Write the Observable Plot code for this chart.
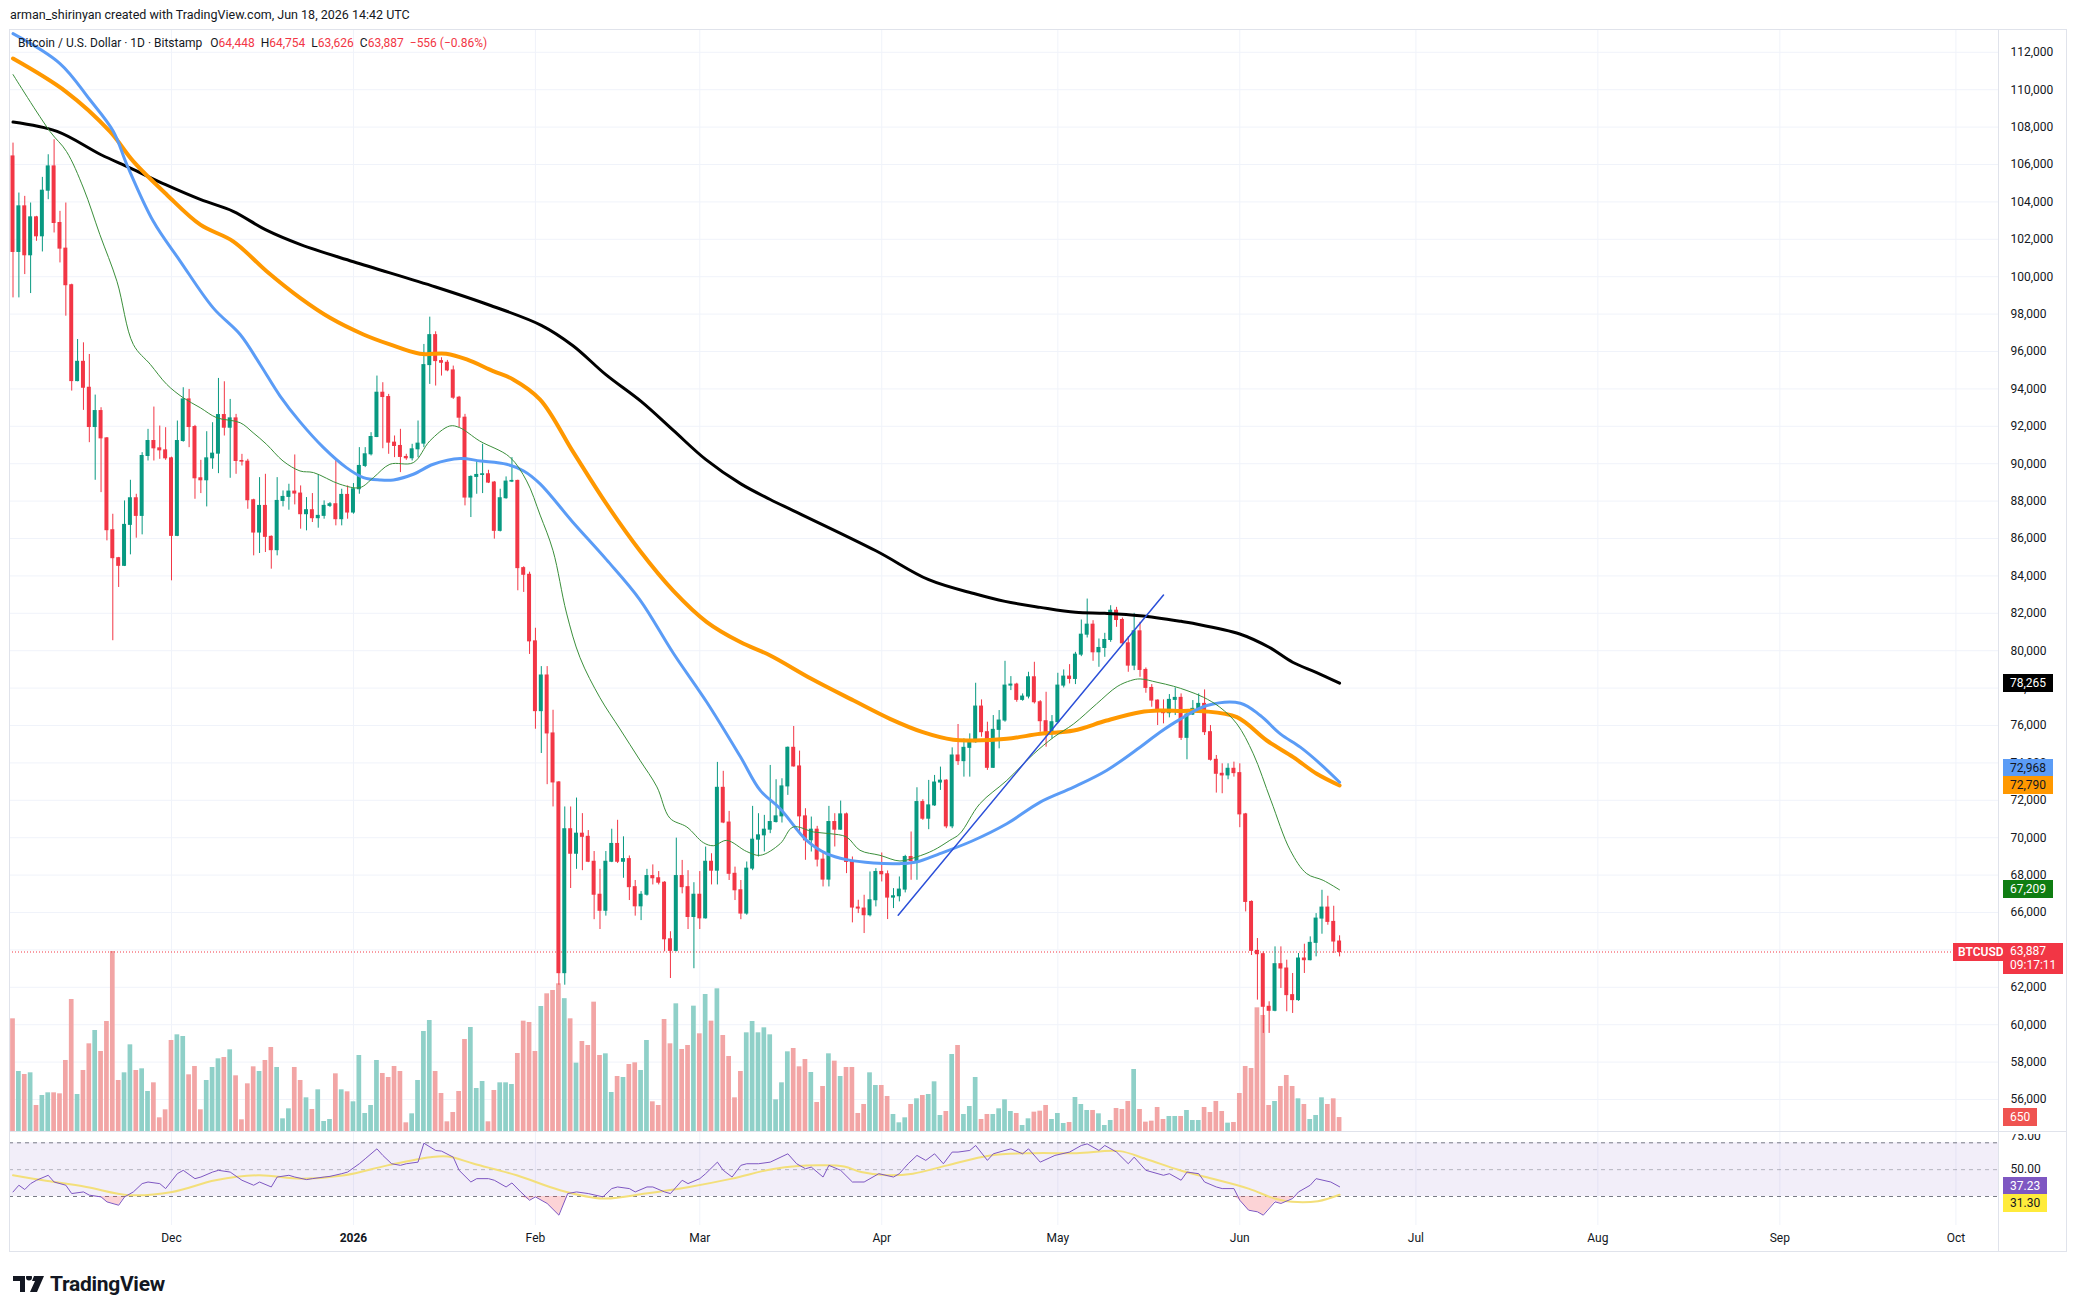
<!DOCTYPE html>
<html><head><meta charset="utf-8">
<script src="https://cdn.jsdelivr.net/npm/d3@7"></script>
<script src="https://cdn.jsdelivr.net/npm/@observablehq/plot@0.6"></script>
<style>
html,body{margin:0;padding:0;background:#fff;}
#root{position:relative;width:2078px;height:1312px;overflow:hidden;font-family:Roboto,"Noto Sans",sans-serif;color:#131722;background:#fff;}
.tag{position:absolute;height:18px;line-height:18px;font-size:12px;padding:0 7px;color:#fff;white-space:nowrap;box-sizing:border-box;}
.hl{position:absolute;background:#e0e3eb;}
</style></head><body><div id="root"></div>
<script>
// ---------- DATA ----------
const startDate = "2025-11-04"; // first daily candle
const opens = [
106432,101323,103762,101145,103175,102160,104599,105898,102872,101501,
99544,94417,95449,94061,91961,92815,91355,86443,84947,84538,
86728,88152,87208,90412,91213,90821,90714,90287,86140,91213,
93438,91961,89220,89113,90287,90537,92602,91925,92424,90145,
90110,88045,86318,87742,86088,85375,88009,88223,88509,88403,
87299,87513,87085,87210,87744,87833,87032,88331,87388,88634,
89880,90503,91428,93796,93565,91126,90948,90361,90290,90770,
91073,95273,96875,95487,95398,94989,93529,92461,88189,89293,
89399,89435,88990,86409,88154,89043,89079,84416,84060,80500,
76767,78674,75576,72955,62755,70453,69142,70215,70047,68713,
66950,66092,68713,69666,68713,68856,67355,66330,66950,67950,
67831,67593,64567,63948,67950,67355,65759,66950,65687,68713,
68237,72668,70810,68070,67188,65943,68346,69895,70126,70429,
70838,71141,72743,74808,73811,71141,69859,70429,68827,67759,
70838,70429,71247,68702,66264,66210,65854,66655,68168,68044,
66797,66868,67225,68969,68755,71906,71016,71728,72950,73050,
70605,74396,74093,74805,75108,77013,75642,73737,75767,76265,
78134,78188,77369,77547,78579,77244,76230,75642,76176,78134,
78615,78490,79789,80857,81392,79914,80146,80573,82139,81641,
80395,79202,81036,78971,78009,77333,76799,76658,77370,77477,
75340,76586,76889,77156,75643,74166,73418,73330,73685,73453,
71247,66565,63949,63770,60958,60744,63236,63005,61581,61314,
63539,63450,64376,65675,66263,65497,64448];
const highs = [
107144,104474,104296,103940,103228,105311,106521,107322,103495,103940,
99600,96642,96464,95841,93669,92993,91400,87297,84990,88009,
89113,88365,90590,91836,93029,92014,91925,90350,92281,94061,
93972,92050,90180,91711,92192,94559,94381,93438,92637,90500,
90234,88100,89255,89433,86140,89255,88543,88901,90467,88812,
88189,88403,89399,88011,87922,90183,88634,88812,88937,90859,
90859,91660,94686,94330,93707,91482,91838,90503,91037,92283,
96377,97837,97053,95665,95523,95220,93600,92639,89350,90147,
91037,89648,89050,88634,89293,90325,89120,84487,84200,81200,
79150,79150,76815,73002,71644,71644,72120,71287,70381,69261,
68308,69261,70453,70930,70047,69023,67712,67117,68308,68546,
68189,67650,64972,69976,68785,68237,67593,68189,69499,69142,
74027,73550,71406,68427,67712,68700,71675,71283,71194,73864,
73099,73152,74850,75947,74630,71549,71105,70607,69236,71675,
71283,71959,71319,68969,66655,66922,68168,68346,69183,68222,
67278,67901,69058,70304,72671,72031,73064,73330,73775,73099,
74805,76053,75288,75553,78259,77369,76176,76532,76799,79433,
78615,78259,77689,78846,79380,77333,77778,76532,78793,78971,
79255,79914,81641,82762,81605,80626,80929,82406,82317,81748,
80751,81997,81516,79077,78188,77369,77370,77654,78010,77690,
76711,77334,77690,77904,75999,74397,73952,73952,74041,73952,
71300,66620,64608,63895,61225,64162,64162,63450,62738,63806,
64304,64697,65942,67188,66869,66335,64754];
const lows = [
98867,98867,100113,99099,101893,101323,104118,102338,100736,97888,
93883,94381,92851,91124,89113,88454,85873,80533,83381,84500,
85126,86016,86194,90145,90145,90234,90181,83737,86100,91150,
90857,88098,88401,87689,89700,89468,91480,89220,89433,89877,
87564,85072,85197,85251,84360,85072,87689,87513,87797,86498,
86409,86854,86551,87032,87655,86676,86676,87032,87299,88367,
89791,90414,91393,90800,90503,90325,89524,90183,90147,90325,
90859,94241,94152,94686,94917,93440,91927,87744,87121,88367,
88403,88937,85964,86350,88100,88990,83205,83116,79800,75800,
74503,72835,71644,62112,62112,67283,68308,68237,68666,65615,
65090,65806,68666,68618,67830,66640,65806,65567,66878,67474,
67474,63900,62469,63900,66997,65090,62993,65090,65650,67474,
67474,70750,67712,66640,65615,65854,68237,68969,69236,70215,
70785,70785,72262,73775,70304,68791,69236,68435,67367,67367,
69503,70393,68079,65445,65943,64875,65765,66299,67634,65623,
66210,66566,67047,67723,67723,70927,70429,71675,72529,70482,
70482,73864,73239,73239,75055,75375,73600,73700,74752,76176,
77867,77244,77298,77422,77150,75642,74841,75286,76087,78009,
78223,78188,79682,80680,79433,79113,79647,80448,81249,80270,
78846,78935,78579,77724,76977,75998,76088,76408,76533,75198,
74166,76533,76800,75465,74095,72386,72350,73098,73240,70535,
66031,63700,61314,59534,59534,60691,61938,60691,60602,61250,
62738,63414,63628,64839,65319,63806,63626];
const closes = [
101323,103762,101145,103175,102160,104599,105898,102872,101501,99544,
94417,95449,94061,91961,92815,91355,86443,84947,84538,86728,
88152,87208,90412,91213,90821,90714,90287,86140,91213,93438,
91961,89220,89113,90287,90537,92602,91925,92424,90145,90110,
88045,86318,87742,86088,85375,88009,88223,88509,88403,87299,
87513,87085,87210,87744,87833,87032,88331,87388,88634,89880,
90503,91428,93796,93565,91126,90948,90361,90290,90770,91073,
95273,96875,95487,95398,94989,93529,92461,88189,89293,89399,
89435,88990,86409,88154,89043,89079,84416,84060,80500,76767,
78674,75576,72955,62755,70453,69142,70215,70047,68713,66950,
66092,68713,69666,68713,68856,67355,66330,66950,67950,67831,
67593,64567,63948,67950,67355,65759,66950,65687,68713,68237,
72668,70810,68070,67188,65943,68346,69895,70126,70429,70838,
71141,72743,74808,73811,71141,69859,70429,68827,67759,70838,
70429,71247,68702,66264,66210,65854,66655,68168,68044,66797,
66868,67225,68969,68755,71906,71016,71728,72950,73050,70605,
74396,74093,74805,75108,77013,75642,73737,75767,76265,78134,
78188,77369,77547,78579,77244,76230,75642,76176,78134,78615,
78490,79789,80857,81392,79914,80146,80573,82139,81641,80395,
79202,81036,78971,78009,77333,76799,76658,77370,77477,75340,
76586,76889,77156,75643,74166,73418,73330,73685,73453,71247,
66565,63949,63770,60958,60744,63236,63005,61581,61314,63539,
63450,64376,65675,66263,65497,64448,63887];
const volumes = [
5093,2723,2588,2663,1193,1643,1763,1763,1718,3218,
5963,1688,2768,3968,4568,3623,4973,8123,2318,2663,
3923,2768,2843,1823,2213,638,998,4118,4373,4298,
2573,2948,998,2318,2903,3293,3353,3698,2528,548,
2168,2933,2723,3218,3803,2903,593,1043,2903,2318,
1538,1013,1898,473,563,2618,1898,1808,1358,3443,
833,1193,3218,2633,2453,2948,2723,413,818,2318,
4523,5018,2723,1733,458,878,1823,4163,4703,1958,
2273,458,1868,2213,2213,2138,3533,4988,4928,3623,
5648,6218,6368,6668,6000,5093,3098,4073,3893,5843,
3443,3518,1778,2498,2453,3038,3113,2768,4118,1358,
1193,5063,3968,5768,3713,3893,5663,4418,6188,4988,
6443,4343,3398,1538,2723,4463,4973,4463,4688,4373,
1448,2213,3608,3758,2933,3263,2678,1328,2048,3518,
3188,2498,2903,2903,833,1238,2663,2093,2093,1598,
788,413,638,1238,1493,1643,1688,2258,743,923,
3488,3893,788,1148,2453,563,788,788,1043,1448,
923,833,293,593,893,938,1193,563,833,383,
428,1553,1238,968,968,818,293,518,1058,1013,
1373,2813,1013,443,488,1103,563,698,698,698,
968,518,518,1103,878,1373,923,398,428,1733,
2948,2858,5588,5243,1193,1373,2048,2543,2048,1493,
1238,563,743,1538,1238,1493,650];

// moving averages: [candle index, value]
const ma200Pts = [[0,108270],[7.5,107767],[15,106521],[20,105809],[26,104919],[32,104118],[37.5,103495],[43,102516],[49,101717],[58,100800],[72,99450],[81,98500],[90,97400],[95.4,96308],[101,94759],[107,93329],[112.5,91780],[118,90231],[124,88920],[129,88087],[133,87479],[147,85343],[156,83795],[164,83029],[169,82637],[175,82317],[181,82050],[186,81997],[192,81872],[199,81570],[201,81464],[209,80894],[214,80182],[218,79381],[222,78847],[226,78265]];
const ma100Pts = [[0,111665],[9,109900],[16.5,107767],[20.5,106165],[26.2,104385],[31.9,102783],[37.5,101893],[43.2,100291],[48.9,98867],[54,97801],[59.7,96911],[64.2,96377],[69.3,95879],[73.8,95879],[77.3,95576],[81.8,94953],[85.2,94508],[89.8,93429],[95.5,90589],[101.1,87848],[106.8,85346],[112.5,83201],[118.2,81533],[123.9,80461],[129,79746],[136,78500],[143.2,77335],[149.4,76356],[155,75644],[160.2,75235],[163.6,75197],[169.3,75286],[175,75553],[180.7,75731],[186.3,76265],[192,76710],[195.4,76800],[199,76780],[202.8,76764],[208.5,76444],[213.6,75198],[218.1,74308],[222.1,73418],[226,72790]];
const ma50Pts = [[0,113000],[8,111400],[13,109500],[17.1,107767],[19.4,105987],[23.9,102961],[28.5,100825],[34.1,98333],[38.7,96909],[42.1,95307],[45.5,93617],[48.9,92237],[52.9,90859],[56.8,89791],[59.7,89257],[62.5,89133],[64.8,89133],[68.2,89435],[71.6,89969],[76.2,90272],[79.6,90147],[84.1,89969],[87,89613],[89.8,88921],[95.3,86900],[101.1,84870],[106.8,82724],[112.5,79865],[118.2,77244],[123.9,74340],[127.3,72529],[130.7,71550],[135.2,69859],[138.6,69147],[142,68827],[146.6,68649],[151.1,68613],[153.9,68702],[157.9,69150],[163.3,69810],[169.3,70747],[175,71904],[180.7,72703],[186.3,73595],[192,74841],[195.4,75643],[198.8,76330],[203.4,77067],[209.1,77192],[212.5,76533],[215.9,75554],[219.3,74842],[222.7,73952],[226,72968]];
const ma20Pts = [[0,110810],[6.3,107767],[9.1,106699],[12,104741],[14.8,102249],[17.7,99757],[20.5,96375],[23.4,95307],[26.2,94239],[29,93527],[31.9,92993],[34.7,92459],[38.7,92192],[40.9,91658],[43.2,91035],[46,90145],[48.9,89611],[51.2,89524],[55.7,88901],[59.1,88723],[61.4,89257],[64.2,89969],[68.2,90058],[71,91215],[74.4,92016],[76.1,91927],[79.5,91215],[84.6,90361],[87.5,89079],[89.8,87253],[92,85346],[94.3,82010],[96.6,79627],[100,77482],[103.4,75814],[106.8,74146],[109.7,72716],[111.9,71048],[114.8,70572],[117.6,69738],[119.3,69571],[121.6,69855],[125,69260],[127.3,69058],[130.7,69681],[132.9,70571],[136.4,70304],[139.2,70215],[142,70037],[144.3,69325],[147.7,69058],[151.1,68755],[153.9,68969],[156.8,69325],[159.6,69859],[161.3,70213],[164.7,71811],[169.3,73061],[173.9,74485],[177.3,75375],[180.7,76087],[184.6,77155],[188.1,78081],[190.4,78401],[192,78490],[194.9,78312],[197.7,78100],[200,77868],[202.8,77512],[205.6,76978],[208.5,76088],[211.3,74486],[214.3,71994],[217.6,69324],[220.4,68078],[223.2,67722],[226,67209]];
const trendPts = [[150.8,65854],[196,82976]];

// RSI (14) and its moving average: [candle index, value]
const rsiPts = [[0,33.4],[1,38.4],[2,35.2],[3,39.6],[4,42.1],[6,45.8],[7,40.8],[9,38.4],[10,32.2],[12,33.4],[13,31.0],[15,29.7],[16,26.0],[18,23.5],[19,29.7],[20.5,33.4],[22,39.6],[23,40.8],[25,39.6],[26,35.9],[28,47.0],[29,49.5],[31,43.3],[32,44.5],[34,48.2],[35,49.5],[37,48.2],[39,42.1],[41,38.4],[42,40.8],[44,37.1],[45,44.5],[47,45.8],[48,44.5],[50,42.6],[51,43.3],[53,44.5],[54,45.0],[56,47.0],[57,48.2],[59,54.4],[60,58.1],[62,65.5],[63,60.6],[64.5,54.4],[66,53.2],[67,54.4],[69,55.6],[70,69.7],[72,64.3],[73,63.8],[75,59.3],[76,49.5],[78,40.8],[79,43.3],[81,43.3],[82,42.1],[84,37.1],[85,40.1],[86.5,33.4],[88,27.2],[89,29.7],[91,24.8],[93,16.1],[94.5,32.2],[96,33.4],[98,32.2],[100.5,29.7],[102,35.9],[103,37.1],[105,35.9],[106,33.4],[108,37.1],[109,37.1],[111,33.4],[112,32.2],[114,42.1],[115,39.6],[117,43.3],[118,47.0],[120,55.6],[121,49.5],[122.5,44.5],[124,53.2],[125,54.4],[127,54.4],[129,55.6],[132,61.8],[133.5,54.4],[135,50.7],[136,51.9],[138,44.5],[139,53.2],[141,49.5],[143,40.8],[145,40.8],[147.5,47.0],[150,44.5],[151,47.0],[152.5,54.4],[154,60.6],[155.5,56.9],[157,61.8],[158.5,54.4],[160,63.1],[161,63.1],[163,64.3],[164,68.0],[166,56.9],[167,61.8],[169,64.3],[170,65.5],[172,61.8],[173,65.5],[175,55.6],[177.5,60.6],[180,63.1],[182,68.0],[183,69.2],[185,64.3],[186,68.0],[188,63.1],[190,54.4],[191,59.3],[193,49.5],[196,45.8],[197,47.0],[199,42.1],[200,48.2],[202,47.0],[203,40.8],[205,37.1],[206,35.9],[208,35.9],[209,27.2],[210.5,19.8],[212,18.6],[213,16.1],[215,26.0],[216,24.8],[218,28.5],[219,33.4],[221,38.4],[222,43.3],[224.5,40.8],[226,37.23]];
const rsiMaPts = [[0,45.8],[5.1,42.1],[12.5,37.1],[19.8,31.0],[27.1,33.4],[34.5,42.1],[41.8,45.8],[49.1,43.3],[56.5,45.8],[63.8,53.2],[71.1,59.3],[74.1,59.8],[78.5,54.4],[85.8,45.8],[93.2,34.7],[100.5,28.5],[107.8,32.2],[115.2,37.1],[122.5,43.3],[129.8,50.7],[137.2,53.2],[141.6,52.4],[144.5,48.2],[148.9,45.8],[153.3,47.0],[159.2,53.2],[166.5,60.6],[173.9,62.3],[181.2,62.3],[188.5,63.8],[192.9,58.1],[198.8,49.5],[203.2,44.5],[210.5,35.9],[214.9,28.5],[217.9,26.0],[222.3,26.5],[226,31.30]];
const rsiLevels = [70, 50, 30];
const rsiBand = [{lo: 30, hi: 70}];

// ticks and labels
const priceTicks = [56000,58000,60000,62000,64000,66000,68000,70000,72000,74000,76000,78000,80000,82000,84000,86000,88000,90000,92000,94000,96000,98000,100000,102000,104000,106000,108000,110000,112000];
const rsiTicks = [75, 50];
const monthDates = ["2025-12-01","2026-01-01","2026-02-01","2026-03-01","2026-04-01","2026-05-01","2026-06-01","2026-07-01","2026-08-01","2026-09-01","2026-10-01"];
const monthLabels = ["Dec","2026","Feb","Mar","Apr","May","Jun","Jul","Aug","Sep","Oct"];
const headerText = "arman_shirinyan created with TradingView.com, Jun 18, 2026 14:42 UTC";
const symbolText = "Bitcoin / U.S. Dollar · 1D · Bitstamp";
const ohlcLegend = [["O","64,448"],["H","64,754"],["L","63,626"],["C","63,887"],["","−556 (−0.86%)"]];
const countdown = "09:17:11";

// ---------- RENDER ----------
const DAY = 864e5;
const T0 = Date.parse(startDate + "T00:00:00Z");
const day = i => new Date(T0 + i * DAY);
const GREEN = "#089981", RED = "#f23645", VUP = "#8fd0c8", VDN = "#f2a5a5";
const candles = opens.map((o, i) => ({
  date: day(i), open: o, high: highs[i], low: lows[i], close: closes[i], vol: volumes[i], up: closes[i] >= o
}));
const months = monthDates.map((d, k) => ({date: new Date(d + "T00:00:00Z"), label: monthLabels[k]}));

const root = document.getElementById("root");
const W = 2078, H = 1312;
const xScale = {type: "utc", domain: [new Date("2025-12-01T00:00:00Z"), new Date("2026-07-01T00:00:00Z")], range: [171, 1415.4], axis: null};
const baseStyle = {position: "absolute", left: "0px", top: "0px", background: "transparent", overflow: "visible", fontFamily: "Roboto, 'Noto Sans', sans-serif", fontSize: "12px", color: "#131722"};
const base = {width: W, height: H, marginLeft: 9, marginRight: 80, marginTop: 29, marginBottom: 87, x: xScale, color: {type: "identity"}, style: baseStyle};
const priceY = {domain: [56000, 112000], range: [1099, 51.8], axis: null};
const volY = {domain: [0, 8500], range: [1131.5, 1131.5 - 8500 / 45], axis: null};
const rsiY = {domain: [30, 70], range: [1196, 1142.3], axis: null};
const half = f => d => new Date(+d.date + f * DAY);

// grid
const gridPlot = Plot.plot({...base, y: priceY, marks: [
  Plot.ruleY(priceTicks, {stroke: "#f0f3fa", strokeWidth: 1}),
  Plot.ruleX(months, {x: "date", stroke: "#f0f3fa", strokeWidth: 1})
]});
root.appendChild(gridPlot);

// volume
const volPlot = Plot.plot({...base, y: volY, marks: [
  Plot.rect(candles, {x1: half(-0.4), x2: half(0.4), y1: 0, y2: "vol", fill: d => d.up ? VUP : VDN})
]});
root.appendChild(volPlot);

// price
const pricePlot = Plot.plot({...base, y: priceY, marks: [
  Plot.ruleY([closes[closes.length - 1]], {stroke: RED, strokeDasharray: "1,2", strokeWidth: 1}),
  Plot.ruleX(candles, {x: "date", y1: "low", y2: "high", stroke: d => d.up ? GREEN : RED, strokeWidth: 1}),
  Plot.rect(candles, {x1: half(-0.34), x2: half(0.34), y1: "open", y2: "close", fill: d => d.up ? GREEN : RED, insetTop: -0.5, insetBottom: -0.5}),
  Plot.line(ma200Pts, {x: d => day(d[0]), y: d => d[1], stroke: "#000000", strokeWidth: 3, curve: "catmull-rom"}),
  Plot.line(ma100Pts, {x: d => day(d[0]), y: d => d[1], stroke: "#ff9800", strokeWidth: 4, curve: "catmull-rom"}),
  Plot.line(ma50Pts, {x: d => day(d[0]), y: d => d[1], stroke: "#5b9cf6", strokeWidth: 3, curve: "catmull-rom"}),
  Plot.line(ma20Pts, {x: d => day(d[0]), y: d => d[1], stroke: "#3b8f3b", strokeWidth: 1, curve: "catmull-rom"}),
  Plot.line(trendPts, {x: d => day(d[0]), y: d => d[1], stroke: "#2b4fd8", strokeWidth: 1.5}),
  Plot.axisY({anchor: "right", ticks: priceTicks, tickSize: 0, tickPadding: 12, tickFormat: d3.format(","), label: null, fontSize: 12})
]});
root.appendChild(pricePlot);

// RSI
const rsiPlot = Plot.plot({...base, y: rsiY, marks: [
  Plot.rect(rsiBand, {y1: "lo", y2: "hi", fill: "#7e57c2", fillOpacity: 0.1}),
  Plot.ruleY(rsiLevels, {stroke: "#787b86", strokeDasharray: "4,4", strokeOpacity: d => d === 50 ? 0.5 : 1}),
  Plot.areaY(rsiPts, {x: d => day(d[0]), y1: 30, y2: d => Math.min(d[1], 30), fill: "#f23645", fillOpacity: 0.22}),
  Plot.line(rsiMaPts, {x: d => day(d[0]), y: d => d[1], stroke: "#f3df7a", strokeWidth: 2, curve: "catmull-rom"}),
  Plot.line(rsiPts, {x: d => day(d[0]), y: d => d[1], stroke: "#7e57c2", strokeWidth: 1}),
  Plot.axisY({anchor: "right", ticks: rsiTicks, tickSize: 0, tickPadding: 12, tickFormat: d => d.toFixed(2), label: null, fontSize: 12}),
  Plot.text(months.filter(m => m.label !== "2026"), {x: "date", text: "label", frameAnchor: "bottom", dy: 16, fontSize: 12, fill: "#131722"}),
  Plot.text(months.filter(m => m.label === "2026"), {x: "date", text: "label", frameAnchor: "bottom", dy: 16, fontSize: 12, fontWeight: 700, fill: "#131722"})
]});
root.appendChild(rsiPlot);

// frame lines
function hl(l, t, w, h) { const d = document.createElement("div"); d.className = "hl"; Object.assign(d.style, {left: l + "px", top: t + "px", width: w + "px", height: h + "px"}); root.appendChild(d); }
// mask the clipped top of the RSI axis label like the reference
const mask = document.createElement("div");
Object.assign(mask.style, {position: "absolute", left: "1999px", top: "1118px", width: "66px", height: "16px", background: "#fff"});
root.appendChild(mask);
hl(9, 29, 2058, 1); hl(9, 1251, 2058, 1); hl(9, 29, 1, 1223); hl(2066, 29, 1, 1223);
hl(1998, 29, 1, 1223); hl(9, 1131, 2058, 1);

// header + legend
function txt(s, l, t, css) { const d = document.createElement("div"); d.textContent = s; Object.assign(d.style, {position: "absolute", left: l + "px", top: t + "px", whiteSpace: "nowrap", fontSize: "12px", lineHeight: "16px"}, css || {}); root.appendChild(d); return d; }
txt(headerText, 10, 7, {fontSize: "12.5px"});
const leg = document.createElement("div");
Object.assign(leg.style, {position: "absolute", left: "18px", top: "35px", fontSize: "12px", lineHeight: "16px", whiteSpace: "nowrap"});
leg.innerHTML = "<span>" + symbolText + "</span>" + ohlcLegend.map(([k, v]) => `<span style="margin-left:6px">${k}<span style="color:${RED}">${v}</span></span>`).join("");
leg.firstChild.style.marginRight = "2px";
root.appendChild(leg);

// price-scale tags, positioned through the plots' scales
const yP = pricePlot.scale("y"), yV = volPlot.scale("y"), yR = rsiPlot.scale("y");
function tag(text, y, bg, fg, left) {
  const d = document.createElement("div"); d.className = "tag"; d.textContent = text;
  Object.assign(d.style, {left: (left || 2003) + "px", top: (y - 9) + "px", background: bg, color: fg || "#fff"});
  root.appendChild(d); return d;
}
const fmt = d3.format(",");
const last = a => a[a.length - 1][1];
tag(fmt(last(ma200Pts)), yP.apply(last(ma200Pts)), "#000000");
const yOr = yP.apply(last(ma100Pts));
let yBl = yP.apply(last(ma50Pts)); if (yBl > yOr - 17) yBl = yOr - 17;
tag(fmt(last(ma50Pts)), yBl, "#5b9cf6", "#131722");
tag(fmt(last(ma100Pts)), yOr, "#ff9800", "#131722");
tag(fmt(last(ma20Pts)), yP.apply(last(ma20Pts)), "#0f7d12");
// current price
const yC = yP.apply(closes[closes.length - 1]);
const sym = tag("BTCUSD", yC, RED, "#fff", 1953); sym.style.padding = "0 5px"; sym.style.fontWeight = "600";
const pt = tag("", yC, RED, "#fff");
pt.style.height = "31px"; pt.style.lineHeight = "14px"; pt.style.paddingTop = "1px";
pt.innerHTML = fmt(closes[closes.length - 1]) + "<br>" + countdown;
pt.style.width = "60px";
// volume tag
tag(String(volumes[volumes.length - 1]), yV.apply(volumes[volumes.length - 1]), "#ef5350");
// RSI tags
const yR1 = yR.apply(last(rsiPts));
let yR2 = yR.apply(last(rsiMaPts)); if (yR2 < yR1 + 17) yR2 = yR1 + 17;
tag(last(rsiPts).toFixed(2), yR1, "#7e57c2");
tag(last(rsiMaPts).toFixed(2), yR2, "#ffeb3b", "#131722");

// TradingView logo
const logo = document.createElement("div");
Object.assign(logo.style, {position: "absolute", left: "13px", top: "1272px", display: "flex", alignItems: "center", gap: "5px"});
logo.innerHTML = '<svg width="32" height="16" viewBox="0 0 32 16"><path d="M0 0H12V16H7V5H0Z M13 1.5a3 3 0 1 0 6 0a3 3 0 1 0 -6 0" fill="#131722"/><path d="M21 0H31L24 16H17L22 5H19Z" fill="#131722"/></svg><span style="font-weight:700;font-size:21px;letter-spacing:-0.3px;color:#131722;font-family:Roboto,sans-serif">TradingView</span>';
root.appendChild(logo);
</script></body></html>
